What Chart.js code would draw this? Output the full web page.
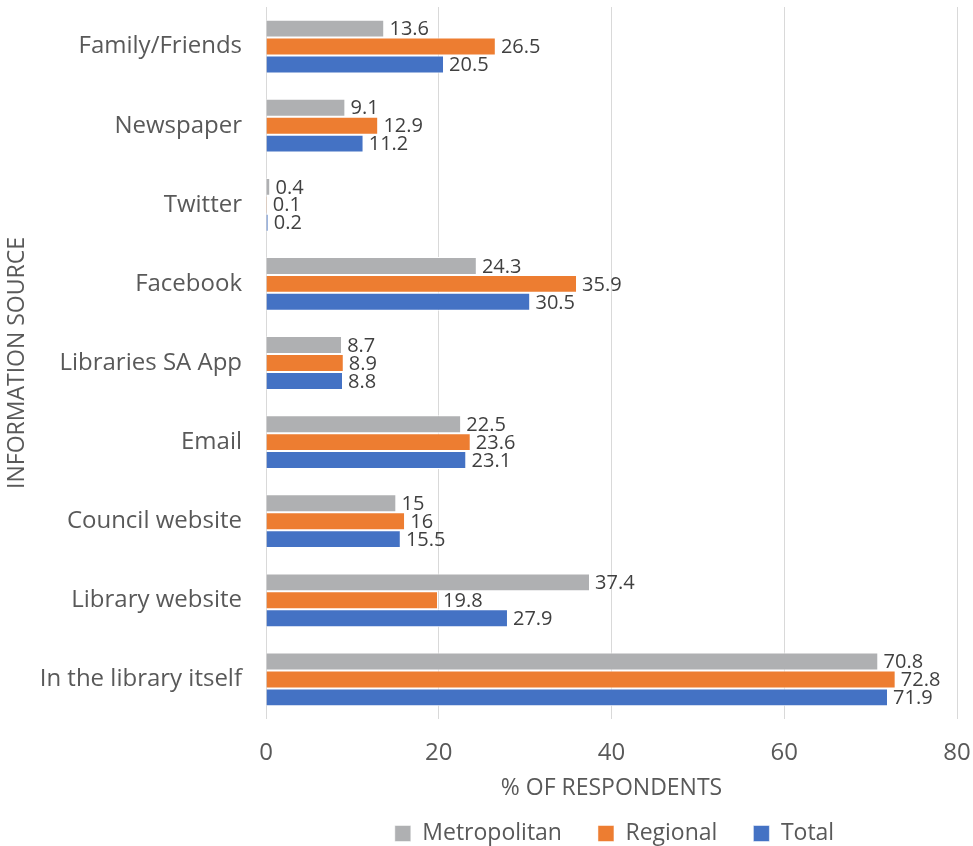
<!DOCTYPE html>
<html>
<head>
<meta charset="utf-8">
<script src="https://cdn.jsdelivr.net/npm/chart.js@4/dist/chart.umd.min.js"></script>
<style>
  html, body { margin: 0; padding: 0; background: #fff; }
  #wrap { width: 973px; height: 846px; position: relative; }
</style>
</head>
<body>
<div id="wrap"><canvas id="sources"></canvas></div>
<script>
// where people hear about library events, split by metro / regional / total
const sources = ['Family/Friends', 'Newspaper', 'Twitter', 'Facebook', 'Libraries SA App',
  'Email', 'Council website', 'Library website', 'In the library itself'];
const metropolitan = [13.6, 9.1, 0.4, 24.3, 8.7, 22.5, 15, 37.4, 70.8];
const regional = [26.5, 12.9, 0.1, 35.9, 8.9, 23.6, 16, 19.8, 72.8];
const total = [20.5, 11.2, 0.2, 30.5, 8.8, 23.1, 15.5, 27.9, 71.9];
const xTicks = [0, 20, 40, 60, 80];

const FONT = '"Open Sans", sans-serif';
const TEXT = '#595959';

// value printed just past the end of each bar
const barValues = {
  id: 'barValues',
  afterDatasetsDraw(chart) {
    const ctx = chart.ctx;
    ctx.save();
    ctx.font = '20px ' + FONT;
    ctx.fillStyle = '#404040';
    ctx.textAlign = 'left';
    ctx.textBaseline = 'middle';
    chart.data.datasets.forEach((ds, i) => {
      chart.getDatasetMeta(i).data.forEach((bar, j) => {
        ctx.fillText(String(ds.data[j]), bar.x + 6, bar.y + 1);
      });
    });
    ctx.restore();
  }
};

// push the legend row down below the axis title
const legendDrop = {
  id: 'legendDrop',
  afterLayout(chart) {
    const lg = chart.legend;
    const shift = 786 - lg.top;
    lg.top += shift;
    lg.bottom += shift;
    lg.left += 3;
    lg.right += 3;
  }
};

new Chart('sources', {
  type: 'bar',
  data: {
    labels: sources,
    datasets: [
      { label: 'Metropolitan', data: metropolitan, backgroundColor: '#AFB0B2' },
      { label: 'Regional', data: regional, backgroundColor: '#ED7D31' },
      { label: 'Total', data: total, backgroundColor: '#4472C4' }
    ]
  },
  plugins: [barValues, legendDrop],
  options: {
    indexAxis: 'y',
    responsive: true,
    maintainAspectRatio: false,
    animation: false,
    datasets: {
      bar: {
        borderColor: '#ffffff',
        // thin white gap between the three bars, none on the ends so tiny values still show
        borderWidth: { top: 1, bottom: 1, left: 0, right: 0 },
        categoryPercentage: 0.68,
        barPercentage: 1
      }
    },
    layout: { padding: { top: 7, right: 16, left: 0, bottom: 0 } },
    scales: {
      x: {
        min: 0,
        max: 80,
        afterBuildTicks: (s) => { s.ticks = xTicks.map(v => ({ value: v })); },
        afterFit: (s) => {
          s.height = 58;
          s.paddingLeft = 0;
          s.paddingRight = 0;
        },
        grid: { color: '#D9D9D9', drawTicks: false },
        border: { display: false },
        ticks: { color: TEXT, font: { family: FONT, size: 24 }, padding: 20 },
        title: {
          display: true,
          text: '% OF RESPONDENTS',
          color: TEXT,
          font: { family: FONT, size: 23 },
          padding: { top: 0, bottom: -25 }
        }
      },
      y: {
        grid: { display: false, drawTicks: false },
        border: { display: false },
        afterFit: (s) => {
          s.width = 266;
          s.paddingTop = 0;
          s.paddingBottom = 0;
        },
        ticks: { color: TEXT, font: { family: FONT, size: 24 }, padding: 24 },
        title: {
          display: true,
          text: 'INFORMATION SOURCE',
          color: TEXT,
          font: { family: FONT, size: 23 },
          padding: { top: 4, bottom: 0 }
        }
      }
    },
    plugins: {
      legend: {
        position: 'bottom',
        fullSize: false,
        labels: {
          color: TEXT,
          font: { family: FONT, size: 23 },
          boxWidth: 16,
          boxHeight: 16,
          padding: 36
        }
      },
      tooltip: { enabled: false }
    }
  }
});
</script>
</body>
</html>
